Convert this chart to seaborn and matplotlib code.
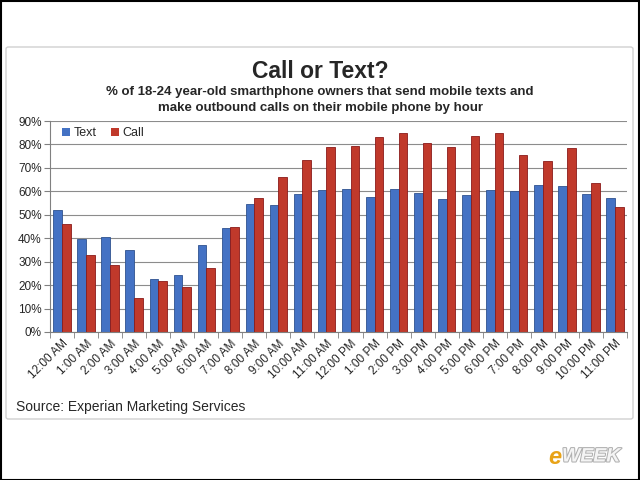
import pandas as pd
import matplotlib.pyplot as plt
import matplotlib.patheffects as pe
import seaborn as sns
from matplotlib.patches import Rectangle, FancyBboxPatch

# Hours of the day (x categories)
hours = ["12:00 AM", "1:00 AM", "2:00 AM", "3:00 AM", "4:00 AM", "5:00 AM",
         "6:00 AM", "7:00 AM", "8:00 AM", "9:00 AM", "10:00 AM", "11:00 AM",
         "12:00 PM", "1:00 PM", "2:00 PM", "3:00 PM", "4:00 PM", "5:00 PM",
         "6:00 PM", "7:00 PM", "8:00 PM", "9:00 PM", "10:00 PM", "11:00 PM"]

# % sending texts / making calls
text_pct = [52, 39.5, 40.5, 35, 22.5, 24.5, 37, 44.5, 54.5, 54, 58.8, 60.4,
            61, 57.4, 61, 59.2, 56.6, 58.3, 60.6, 60, 62.6, 62.1, 58.7, 57.3]
call_pct = [46, 33, 28.5, 14.4, 21.8, 19, 27.2, 44.8, 57, 66, 73.3, 78.7,
            79.2, 83.1, 84.7, 80.6, 78.8, 83.8, 84.7, 75.7, 72.8, 78.3, 63.4, 53.2]

series_names = ["Text", "Call"]
palette = {"Text": "#4472C4", "Call": "#C0392B"}

df = pd.DataFrame({
    "hour": hours * 2,
    "series": ["Text"] * len(hours) + ["Call"] * len(hours),
    "pct": text_pct + call_pct,
})

sns.set_style("white")
plt.rcParams['font.family'] = ['Liberation Sans', 'DejaVu Sans']

fig = plt.figure(figsize=(6.4, 4.8), dpi=100)

# outer black frame and inner light chart box
fig.patches.append(Rectangle((0.001, 0.001), 0.997, 0.997, transform=fig.transFigure,
                             fill=False, edgecolor="black", linewidth=1.5))
fig.patches.append(FancyBboxPatch((6 / 640, 1 - 419 / 480), 627 / 640, 372 / 480,
                                  boxstyle="round,pad=0,rounding_size=0.004",
                                  transform=fig.transFigure, fill=False,
                                  edgecolor="#d0d0d0", linewidth=1))

ax = fig.add_axes([50 / 640, 1 - 332 / 480, 577 / 640, 211 / 480])

sns.barplot(data=df, x="hour", y="pct", hue="series", hue_order=series_names,
            palette=palette, width=0.72, ax=ax, edgecolor="none", saturation=1)

# darker outline on the bars for the Excel-ish look
for container, name in zip(ax.containers, series_names):
    edge = "#2F528F" if name == "Text" else "#8B1A1A"
    for bar in container:
        bar.set_edgecolor(edge)
        bar.set_linewidth(0.6)

ax.set_ylim(0, 90)
ax.set_yticks(range(0, 91, 10))
ax.set_yticklabels([f"{v}%" for v in range(0, 91, 10)], fontsize=8.5)
ax.set_xlim(-0.5, len(hours) - 0.5)
ax.set_xticks(range(len(hours)))
ax.set_xticklabels(hours, rotation=45, ha="right", rotation_mode="anchor", fontsize=8.5)
ax.tick_params(axis="x", length=0, pad=4)
ax.tick_params(axis="y", length=4, color="#808080", left=True, pad=2)

# minor ticks between categories on the x axis
ax.set_xticks([i + 0.5 for i in range(-1, len(hours))], minor=True)
ax.tick_params(axis="x", which="minor", length=4, color="#808080", bottom=True)

ax.set_axisbelow(True)
ax.yaxis.grid(True, color="#8c8c8c", linewidth=0.8)
ax.set_xlabel("")
ax.set_ylabel("")
for side in ["top", "right"]:
    ax.spines[side].set_visible(False)
for side in ["left", "bottom"]:
    ax.spines[side].set_color("#808080")
    ax.spines[side].set_linewidth(0.8)

ax.legend(title=None, loc="upper left", bbox_to_anchor=(0.01, 1.0), ncol=2,
          frameon=False, fontsize=9, handlelength=0.6, handleheight=0.6,
          handletextpad=0.3, columnspacing=1.2, borderaxespad=0.1)

fig.text(0.5, 1 - 72 / 480, "Call or Text?", ha="center", va="center",
         fontsize=16.5, fontweight="bold")
fig.text(0.5, 1 - 100 / 480,
         "% of 18-24 year-old smarthphone owners that send mobile texts and\n"
         "make outbound calls on their mobile phone by hour",
         ha="center", va="center", fontsize=9.5, fontweight="bold", linespacing=1.45)
fig.text(16 / 640, 1 - 407 / 480, "Source: Experian Marketing Services",
         ha="left", va="center", fontsize=10)

# eWEEK mark in the corner
fig.text(548 / 640, 1 - 458 / 480, "e", ha="left", va="center", fontsize=17,
         fontweight="bold", style="italic", color="#E8A317")
fig.text(562 / 640, 1 - 457 / 480, "WEEK", ha="left", va="center", fontsize=14,
         fontweight="bold", style="italic", color="#f4f4f4",
         path_effects=[pe.withStroke(linewidth=1.5, foreground="#b0b0b0")])

fig.savefig("out.png", dpi=100)
